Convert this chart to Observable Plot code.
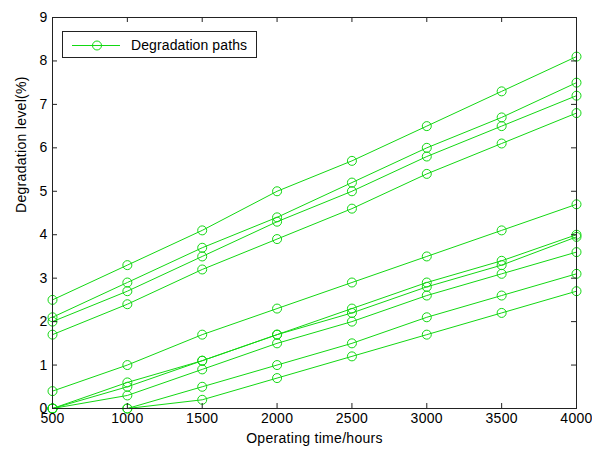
<!DOCTYPE html>
<html>
<head>
<meta charset="utf-8">
<script src="https://cdn.jsdelivr.net/npm/d3@7"></script>
<script src="https://cdn.jsdelivr.net/npm/@observablehq/plot@0.6"></script>
<style>
  html, body { margin: 0; padding: 0; background: #fff; }
  #wrap { position: relative; width: 592px; height: 450px; font-family: "Liberation Sans", Arial, sans-serif; }
  #legend { position: absolute; left: 62px; top: 31px; width: 195px; height: 27px; border: 1px solid #222; background: #fff; box-sizing: border-box; }
  #legend svg { position: absolute; left: 0; top: 0; }
  #legend span { position: absolute; left: 68px; top: 5px; font-size: 14px; letter-spacing: 0.1px; color: #000; white-space: nowrap; }
  svg text { letter-spacing: 0.3px; }
</style>
</head>
<body>
<div id="wrap"></div>
<script>
const hours = [500, 1000, 1500, 2000, 2500, 3000, 3500, 4000];
const path1 = [2.5, 3.3, 4.1, 5.0, 5.7, 6.5, 7.3, 8.1];
const path2 = [2.1, 2.9, 3.7, 4.4, 5.2, 6.0, 6.7, 7.5];
const path3 = [2.0, 2.7, 3.5, 4.3, 5.0, 5.8, 6.5, 7.2];
const path4 = [1.7, 2.4, 3.2, 3.9, 4.6, 5.4, 6.1, 6.8];
const path5 = [0.4, 1.0, 1.7, 2.3, 2.9, 3.5, 4.1, 4.7];
const path6 = [0.0, 0.6, 1.1, 1.7, 2.3, 2.9, 3.4, 4.0];
const path7 = [0.0, 0.5, 1.1, 1.7, 2.2, 2.8, 3.3, 3.95];
const path8 = [0.0, 0.3, 0.9, 1.5, 2.0, 2.6, 3.1, 3.6];
const path9 = [0.0, 0.0, 0.5, 1.0, 1.5, 2.1, 2.6, 3.1];
const path10 = [0.0, 0.0, 0.2, 0.7, 1.2, 1.7, 2.2, 2.7];
const xTicks = [500, 1000, 1500, 2000, 2500, 3000, 3500, 4000];
const yTicks = [0, 1, 2, 3, 4, 5, 6, 7, 8, 9];
const legendLabel = "Degradation paths";
const xLabel = "Operating time/hours";
const yLabel = "Degradation level(%)";

const paths = [path1, path2, path3, path4, path5, path6, path7, path8, path9, path10];
const rows = paths.flatMap((p, i) => p.map((v, j) => ({series: i, hours: hours[j], level: v})));

const green = "#12d812";
const axisColor = "#222";
const font = "Liberation Sans, Arial, sans-serif";
const W = 592, H = 450, mL = 52, mR = 16, mT = 17, mB = 42;
const tick = 5;
const innerW = W - mL - mR, innerH = H - mT - mB;

const chart = Plot.plot({
  width: W,
  height: H,
  marginLeft: mL,
  marginRight: mR,
  marginTop: mT,
  marginBottom: mB,
  style: {fontFamily: font, fontSize: "14px", color: "#000", background: "#fff"},
  x: {domain: [500, 4000]},
  y: {domain: [0, 9]},
  marks: [
    Plot.line(rows, {x: "hours", y: "level", z: "series", stroke: green, strokeWidth: 1}),
    Plot.dot(rows, {x: "hours", y: "level", r: 4.5, stroke: green, strokeWidth: 1, fill: "none"}),
    Plot.ruleX(xTicks, {x: d => d, insetTop: innerH - tick, stroke: axisColor}),
    Plot.ruleX(xTicks, {x: d => d, insetBottom: innerH - tick, stroke: axisColor}),
    Plot.ruleY(yTicks, {y: d => d, insetRight: innerW - tick, stroke: axisColor}),
    Plot.ruleY(yTicks, {y: d => d, insetLeft: innerW - tick, stroke: axisColor}),
    Plot.axisX({ticks: xTicks, anchor: "bottom", tickSize: 0, tickPadding: 5, tickFormat: d3.format("d"), label: null, fontSize: 14}),
    Plot.axisY({ticks: yTicks, anchor: "left", tickSize: 0, tickPadding: 5, tickFormat: d3.format("d"), label: null, fontSize: 14}),
    Plot.frame({stroke: axisColor, strokeWidth: 1}),
    Plot.text([xLabel], {frameAnchor: "bottom", dy: 34, text: d => d, fontSize: 14}),
    Plot.text([yLabel], {frameAnchor: "left", dx: -31, rotate: -90, text: d => d, fontSize: 14})
  ]
});

const wrap = document.getElementById("wrap");
wrap.appendChild(chart);

const legend = document.createElement("div");
legend.id = "legend";
legend.innerHTML = `<svg width="64" height="27"><line x1="9" y1="13.5" x2="57" y2="13.5" stroke="${green}" stroke-width="1"/><circle cx="34" cy="13.5" r="4.5" fill="none" stroke="${green}" stroke-width="1"/></svg><span></span>`;
legend.querySelector("span").textContent = legendLabel;
wrap.appendChild(legend);
</script>
</body>
</html>
